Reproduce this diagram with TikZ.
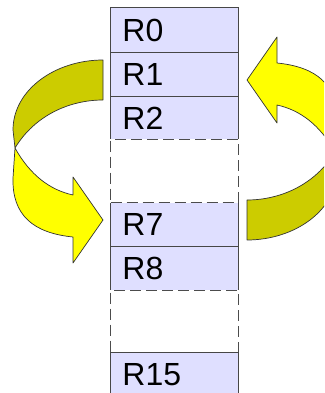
\documentclass[tikz,border=0pt]{standalone}
\usepackage{fontspec}
\setmainfont{Liberation Sans}
\definecolor{regfill}{RGB}{223,223,255}
\definecolor{edgegray}{RGB}{70,70,70}
\definecolor{yel}{RGB}{255,255,0}
\definecolor{olive}{RGB}{204,204,0}
\begin{document}
\begin{tikzpicture}[x=1pt,y=-1pt,
  reg/.style={draw=edgegray, fill=regfill, line width=0.9pt, anchor=north west,
    minimum width=128pt, inner xsep=12pt, inner ysep=0pt, text width=104pt,
    align=left, font=\fontsize{32}{36}\selectfont, text depth=0pt},
  gapbox/.style={draw=black!70, dash pattern=on 11pt off 5pt, line width=1.2pt,
    fill=white, anchor=north west, minimum width=128pt, inner sep=0pt,
    preaction={draw=white, solid, line width=1.6pt}},
  back/.style={fill=olive, draw=black!80, line width=0.7pt, line join=round},
  front/.style={fill=yel, draw=black!80, line width=0.7pt, line join=round}]
\useasboundingbox (0,0) rectangle (324,393);
\clip (0,0) rectangle (324,393);
% left curled arrow
\draw[back] (103,60) .. controls (55,60) and (13,90) .. (13,130)
  -- (15,148) .. controls (35,115) and (70,100) .. (103,100) -- cycle;
\draw[front] (15,148) .. controls (30,175) and (50,190) .. (73,195)
  -- (73,177) -- (103,220) -- (73,263) -- (73,237)
  .. controls (33,233) and (12,215) .. (13,178) -- cycle;
% right curled arrow (same shape turned round)
\begin{scope}[rotate around={180:(175,150)}]
\draw[back] (103,60) .. controls (55,60) and (13,90) .. (13,130)
  -- (15,148) .. controls (35,115) and (70,100) .. (103,100) -- cycle;
\draw[front] (15,148) .. controls (30,175) and (50,190) .. (73,195)
  -- (73,177) -- (103,220) -- (73,263) -- (73,237)
  .. controls (33,233) and (12,215) .. (13,178) -- cycle;
\end{scope}
% register column
\node[reg, minimum height=45pt] (r0) at (110,7) {R0};
\node[reg, minimum height=44pt] (r1) at (110,52) {R1};
\node[reg, minimum height=43pt] (r2) at (110,96) {R2};
\node[reg, minimum height=44pt] (r7) at (110,202) {R7};
\node[reg, minimum height=44pt] (r8) at (110,246) {R8};
\node[gapbox, minimum height=63pt] (g1) at (110,139) {};
\node[gapbox, minimum height=62pt] (g2) at (110,290) {};
\node[reg, minimum height=45pt] (r15) at (110,352) {R15};
\end{tikzpicture}
\end{document}
